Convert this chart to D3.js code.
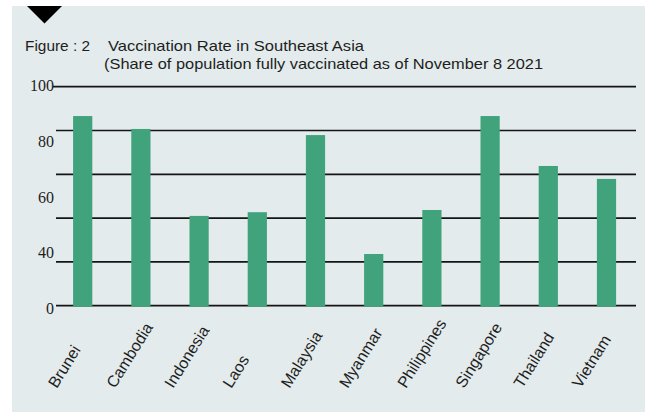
<!DOCTYPE html>
<html>
<head>
<meta charset="utf-8">
<script src="https://cdn.jsdelivr.net/npm/d3@7"></script>
<style>
  html, body { margin: 0; padding: 0; background: #ffffff; }
  svg { display: block; }
</style>
</head>
<body>
<svg id="chart" width="645" height="414"></svg>
<script>
// Share of population fully vaccinated (%), as of November 8 2021
const countries = ["Brunei", "Cambodia", "Indonesia", "Laos", "Malaysia",
                   "Myanmar", "Philippines", "Singapore", "Thailand", "Vietnam"];
const vaccinated = [86.6, 80.7, 41.0, 42.7, 77.9, 23.6, 43.7, 86.6, 63.8, 57.9];

// Horizontal rules and the printed axis labels
const gridValues = [0, 20, 40, 60, 80, 100];
const axisLabels = ["100", "80", "60", "40", "0"];

const titleLine1 = "Figure : 2";
const titleLine2 = "Vaccination Rate in Southeast Asia";
const titleLine3 = "(Share of population fully vaccinated as of November 8 2021";

const svg = d3.select("#chart");
const W = 645, H = 414;

// panel background
svg.append("rect")
  .attr("x", 12).attr("y", 6)
  .attr("width", W - 12).attr("height", 406)
  .attr("fill", "#e3ebec");

// marker triangle at top-left
svg.append("path")
  .attr("d", "M27,6 L62,6 L44.5,23.5 Z")
  .attr("fill", "#000");

// title block
const titleFont = "'Liberation Sans', Arial, sans-serif";
function titleText(str, x0, y0, len) {
  svg.append("text")
    .attr("x", x0).attr("y", y0)
    .attr("font-family", titleFont).attr("font-size", 14.5)
    .attr("fill", "#1e1e1e")
    .attr("textLength", len)
    .attr("lengthAdjust", "spacingAndGlyphs")
    .text(str);
}
titleText(titleLine1, 25, 51, 65);
titleText(titleLine2, 108, 51, 256);
titleText(titleLine3, 104, 69, 439);

// scales
const x = d3.scaleBand()
  .domain(countries)
  .range([53.6, 635.6])
  .paddingInner(0.67)
  .paddingOuter(0.335);

const y = d3.scaleLinear()
  .domain([0, 100])
  .range([305.7, 86.7]);

// printed labels sit on their own evenly spaced positions
const yLabel = d3.scalePoint()
  .domain(axisLabels)
  .range([85.3, 308.5]);

// grid rules
svg.append("g")
  .selectAll("line")
  .data(gridValues)
  .join("line")
  .attr("x1", d => d === 100 ? 53 : 56)
  .attr("x2", 636)
  .attr("y1", d => y(d))
  .attr("y2", d => y(d))
  .attr("stroke", "#151515")
  .attr("stroke-width", 1.7);

// y labels
svg.append("g")
  .selectAll("text")
  .data(axisLabels)
  .join("text")
  .attr("x", 54)
  .attr("y", d => yLabel(d))
  .attr("dy", "0.35em")
  .attr("text-anchor", "end")
  .attr("font-family", "'Liberation Serif', 'Times New Roman', serif")
  .attr("font-size", 16)
  .attr("fill", "#1e1e1e")
  .text(d => d);

// bars
svg.append("g")
  .selectAll("rect")
  .data(countries)
  .join("rect")
  .attr("x", d => x(d))
  .attr("width", x.bandwidth())
  .attr("y", (d, i) => y(vaccinated[i]))
  .attr("height", (d, i) => y(0) - y(vaccinated[i]) + 1)
  .attr("fill", "#40a37b");

// rotated category labels, baselines starting on a common line
svg.append("g")
  .selectAll("text")
  .data(countries)
  .join("text")
  .attr("transform", d => `translate(${x(d) + x.bandwidth() / 2 - 26},${389}) rotate(-58)`)
  .attr("text-anchor", "start")
  .attr("font-family", "'Liberation Sans', Arial, sans-serif")
  .attr("font-size", 16)
  .attr("fill", "#1e1e1e")
  .text(d => d);
</script>
</body>
</html>
